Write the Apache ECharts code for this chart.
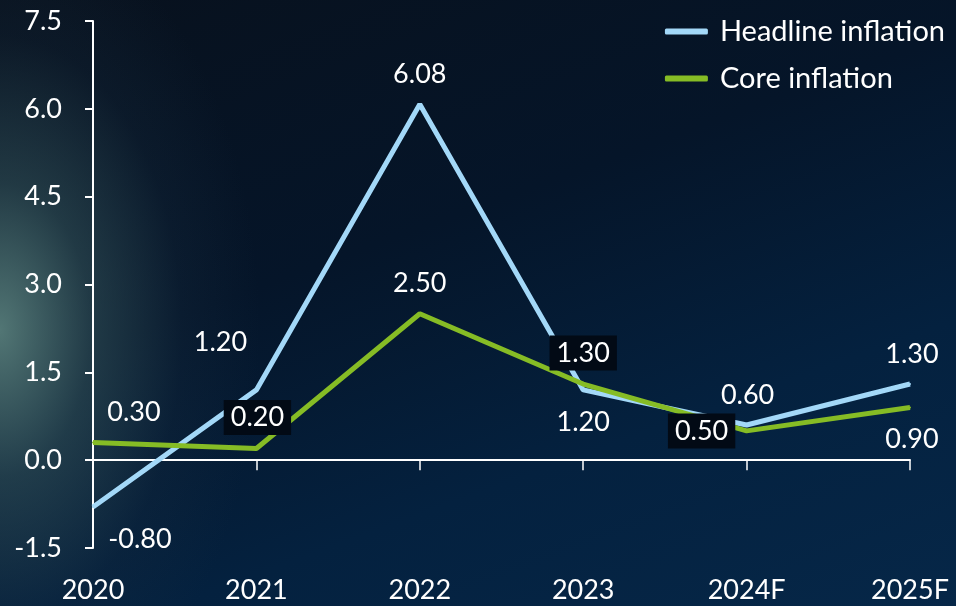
<!DOCTYPE html>
<html>
<head>
<meta charset="utf-8">
<script src="https://cdn.jsdelivr.net/npm/echarts@6/dist/echarts.min.js"></script>
<style>
  html, body { margin: 0; padding: 0; }
  body {
    width: 956px; height: 606px; overflow: hidden;
    background:
      radial-gradient(ellipse 260px 420px at 0px 330px, rgba(95,135,130,0.85) 0%, rgba(60,95,100,0.5) 35%, rgba(30,55,75,0.2) 70%, rgba(20,45,65,0) 100%),
      linear-gradient(160deg, #08111d 0%, #051529 40%, #04213f 70%, #062748 100%);
  }
  #chart { width: 956px; height: 606px; }
</style>
</head>
<body>
<div id="chart"></div>
<script>
const years = ['2020', '2021', '2022', '2023', '2024F', '2025F']
const headline = [-0.80, 1.20, 6.08, 1.20, 0.60, 1.30]
const core = [0.30, 0.20, 2.50, 1.30, 0.50, 0.90]

// label offsets from each point, and which core labels sit in a dark box
const headlineOffsets = [[47, 32], [-36, -48], [0, -30], [0, 32], [1, -30], [2, -30]]
const coreOffsets = [[41, -30], [1, -31], [0, -30], [0, -31], [-45, 0], [2, 32]]
const coreBoxed = [false, true, false, true, true, false]

const font = 'Lato'
const white = '#ffffff'

const toPoints = (values, offsets, boxed) => values.map((v, i) => ({
  value: v,
  label: {
    offset: offsets[i],
    backgroundColor: boxed && boxed[i] ? '#020a15' : 'transparent',
    padding: boxed && boxed[i] ? [5, 7, 3, 7] : 0
  }
}))

const chart = echarts.init(document.getElementById('chart'), null, { renderer: 'canvas' })

const labelStyle = {
  show: true,
  position: 'inside',
  color: white,
  fontFamily: font,
  fontSize: 27,
  formatter: (p) => p.value.toFixed(2)
}

chart.setOption({
  backgroundColor: 'transparent',
  animation: false,
  grid: { left: 93, right: 46, top: 21, bottom: 58 },
  legend: {
    orient: 'vertical',
    right: 6,
    top: 12,
    icon: 'roundRect',
    itemWidth: 43,
    itemHeight: 6,
    itemGap: 18,
    textStyle: { color: white, fontFamily: font, fontSize: 29, padding: [0, 0, 0, 7] },
    data: ['Headline inflation', 'Core inflation']
  },
  xAxis: [
    {
      type: 'category',
      data: years,
      boundaryGap: false,
      axisLine: { onZero: true, lineStyle: { color: white, width: 2 } },
      axisTick: { show: true, length: 10, lineStyle: { color: white, width: 1.5 } },
      axisLabel: { show: false }
    },
    {
      type: 'category',
      data: years,
      boundaryGap: false,
      position: 'bottom',
      axisLine: { show: false, onZero: false },
      axisTick: { show: false },
      axisLabel: { color: white, fontFamily: font, fontSize: 27, margin: 29 }
    }
  ],
  yAxis: {
    type: 'value',
    min: -1.5,
    max: 7.5,
    interval: 1.5,
    axisLine: { show: true, lineStyle: { color: white, width: 2 } },
    axisTick: { show: true, length: 8, lineStyle: { color: white, width: 2 } },
    splitLine: { show: false },
    axisLabel: {
      color: white,
      fontFamily: font,
      fontSize: 27,
      margin: 31,
      formatter: (v) => v.toFixed(1)
    }
  },
  series: [
    {
      name: 'Headline inflation',
      type: 'line',
      xAxisIndex: 0,
      symbol: 'circle',
      symbolSize: 2,
      lineStyle: { color: '#a3d8f8', width: 5 },
      itemStyle: { color: '#a3d8f8' },
      label: labelStyle,
      data: toPoints(headline, headlineOffsets)
    },
    {
      name: 'Core inflation',
      type: 'line',
      xAxisIndex: 0,
      symbol: 'circle',
      symbolSize: 2,
      lineStyle: { color: '#86bc25', width: 5 },
      itemStyle: { color: '#86bc25' },
      label: labelStyle,
      data: toPoints(core, coreOffsets, coreBoxed)
    }
  ]
})

window.addEventListener('resize', () => chart.resize())
</script>
</body>
</html>
